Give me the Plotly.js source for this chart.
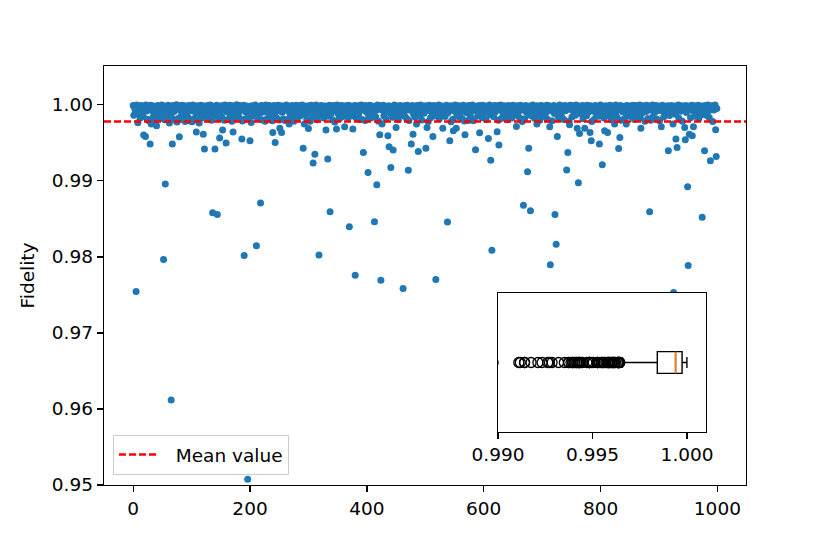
<!DOCTYPE html>
<html>
<head>
<meta charset="utf-8">
<script src="https://cdn.plot.ly/plotly-3.0.1.min.js"></script>
<style>html,body{margin:0;padding:0;background:#fff}</style>
</head>
<body>
<div id="plot" style="width:830px;height:554px"></div>
<script>
// fidelity of each of the 1000 samples (band values estimated)
var fidelity = [
0.99991,0.99862,0.99978,0.99945,0.99912,0.97543,0.99996,0.99957,0.99763,0.99881,0.99983,0.99938,0.99826,0.99992,0.99964,0.99903,0.99971,0.99849,0.99601,0.99987,
0.99952,0.99583,0.99998,0.99917,0.99811,0.99966,0.99979,0.99790,0.99941,0.99483,0.99994,0.99746,0.99925,0.99958,0.99838,0.99985,0.99893,0.99949,0.99791,0.99976,
0.99724,0.99962,0.99990,0.99858,0.99933,0.99981,0.99819,0.99907,0.99968,0.99997,0.99876,0.99944,0.97964,0.99985,0.99802,0.98957,0.99955,0.99921,0.99978,0.99843,
0.99993,0.99936,0.99759,0.99887,0.99972,0.96118,0.99830,0.99483,0.99989,0.99951,0.99912,0.99977,0.99796,0.99942,0.99999,0.99775,0.99960,0.99820,0.99983,0.99579,
0.99930,0.99975,0.99852,0.99995,0.99944,0.99808,0.99967,0.99898,0.99986,0.99780,0.99939,0.99880,0.99979,0.99956,0.99833,0.99992,0.99918,0.99964,0.99787,0.99982,
0.99947,0.99778,0.99996,0.99926,0.99815,0.99973,0.99958,0.99892,0.99641,0.99988,0.99937,0.99841,0.99980,0.99759,0.99910,0.99969,0.99994,0.99826,0.99950,0.99877,
0.99614,0.99985,0.99417,0.99934,0.99861,0.99976,0.99905,0.99991,0.99812,0.99953,0.99970,0.99884,0.99998,0.99940,0.99797,0.99962,0.98579,0.99919,0.99981,0.99849,
0.99417,0.99966,0.99889,0.99993,0.98557,0.99945,0.99823,0.99978,0.99562,0.99914,0.99957,0.99986,0.99836,0.99667,0.99932,0.99974,0.99795,0.99997,0.99948,0.99496,
0.99909,0.99983,0.99805,0.99961,0.99938,0.99995,0.99857,0.99927,0.99971,0.99782,0.99988,0.99643,0.99943,0.99895,0.99979,0.99818,0.99954,0.99999,0.99876,0.99935,
0.99968,0.99844,0.99990,0.99920,0.99952,0.99977,0.99549,0.99786,0.99940,0.99994,0.98017,0.99809,0.99963,0.99901,0.99984,0.99931,0.95075,0.99828,0.99973,0.99891,
0.99526,0.99959,0.99767,0.99987,0.99916,0.99946,0.99852,0.99980,0.99937,0.99996,0.99874,0.98145,0.99965,0.99821,0.99929,0.99978,0.99953,0.99885,0.98707,0.99991,
0.99942,0.99799,0.99970,0.99907,0.99985,0.99956,0.99783,0.99998,0.99934,0.99816,0.99974,0.99897,0.99961,0.99989,0.99846,0.99944,0.99980,0.99912,0.99790,0.99636,
0.99967,0.99992,0.99881,0.99504,0.99950,0.99832,0.99976,0.99923,0.99994,0.99939,0.99799,0.99693,0.99969,0.99986,0.99636,0.99902,0.99958,0.99814,0.99981,0.99936,
0.99792,0.99964,0.99997,0.99928,0.99806,0.99955,0.99983,0.99746,0.99890,0.99947,0.99975,0.99839,0.99991,0.99919,0.99962,0.99785,0.99978,0.99933,0.99868,0.99995,
0.99941,0.99824,0.99972,0.99906,0.99988,0.99951,0.99855,0.99979,0.99930,0.99998,0.99878,0.99430,0.99960,0.99746,0.99915,0.99984,0.99945,0.99811,0.99970,0.99893,
0.99688,0.99987,0.99938,0.99782,0.99966,0.99993,0.99921,0.99834,0.99233,0.99977,0.99949,0.99351,0.99883,0.99996,0.99957,0.99803,0.99971,0.99926,0.98026,0.99982,
0.99943,0.99869,0.99990,0.99954,0.99911,0.99975,0.99827,0.99937,0.99985,0.99898,0.99667,0.99963,0.99980,0.99286,0.99848,0.99932,0.99994,0.98592,0.99959,0.99887,
0.99973,0.99918,0.99800,0.99989,0.99946,0.99774,0.99978,0.99935,0.99680,0.99997,0.99953,0.99879,0.99968,0.99817,0.99983,0.99940,0.99903,0.99992,0.99961,0.99845,
0.99928,0.99979,0.99711,0.99950,0.99986,0.99873,0.99936,0.99970,0.99829,0.99995,0.98395,0.99913,0.99957,0.99981,0.99856,0.99944,0.99680,0.99976,0.99899,0.99990,
0.97759,0.99833,0.99965,0.99922,0.99987,0.99948,0.99881,0.99974,0.99808,0.99939,0.99998,0.99955,0.99806,0.99983,0.99373,0.99930,0.99967,0.99794,0.99991,0.99909,
0.99952,0.99977,0.99110,0.99862,0.99943,0.99993,0.99915,0.99825,0.99969,0.99985,0.99937,0.99886,0.99960,0.98461,0.99979,0.99842,0.99929,0.98947,0.99996,0.99950,
0.99785,0.99972,0.99605,0.99988,0.97693,0.99934,0.99746,0.99963,0.99994,0.99857,0.99946,0.99980,0.99906,0.99812,0.99970,0.99925,0.99592,0.99986,0.99447,0.99953,
0.99893,0.99175,0.99978,0.99940,0.99835,0.99404,0.99967,0.99997,0.99920,0.99871,0.99701,0.99958,0.99983,0.99911,0.99804,0.99973,0.99936,0.99990,0.99864,0.99949,
0.99976,0.99917,0.97583,0.99961,0.99987,0.99850,0.99942,0.99971,0.99818,0.99995,0.99932,0.99140,0.99794,0.99966,0.99981,0.99927,0.99483,0.99955,0.99992,0.99614,
0.99873,0.99946,0.99979,0.99837,0.99958,0.99746,0.99989,0.99912,0.99386,0.99968,0.99938,0.99860,0.99998,0.99951,0.99801,0.99975,0.99924,0.99984,0.99889,0.99944,
0.99963,0.99430,0.99986,0.99701,0.99935,0.99780,0.99972,0.99994,0.99921,0.99828,0.99956,0.99980,0.99899,0.99583,0.99947,0.99991,0.99853,0.99966,0.97701,0.99931,
0.99977,0.99882,0.99949,0.99996,0.99816,0.99940,0.99970,0.99908,0.99985,0.99861,0.99693,0.99957,0.99979,0.99926,0.99846,0.99964,0.99993,0.99937,0.98457,0.99894,
0.99974,0.99952,0.99526,0.99988,0.99776,0.99933,0.99981,0.99809,0.99658,0.99960,0.99918,0.99997,0.99944,0.99693,0.99877,0.99971,0.99987,0.99929,0.99838,0.99962,
0.99983,0.99906,0.99945,0.99820,0.99976,0.99994,0.99931,0.99788,0.99605,0.99958,0.99985,0.99895,0.99967,0.99792,0.99939,0.99990,0.99954,0.99852,0.99978,0.99916,
0.99948,0.99998,0.99789,0.99965,0.99814,0.99936,0.99408,0.99982,0.99923,0.99971,0.99858,0.99950,0.99989,0.99632,0.99902,0.99975,0.99943,0.99831,0.99993,0.99960,
0.99887,0.99969,0.99934,0.99984,0.99807,0.99955,0.99913,0.99978,0.99557,0.99947,0.99996,0.99869,0.99272,0.99962,0.98088,0.99929,0.99980,0.99841,0.99957,0.99991,
0.99910,0.99973,0.99944,0.99644,0.99986,0.99795,0.99470,0.99961,0.99932,0.99997,0.99819,0.99952,0.99979,0.99896,0.99940,0.99988,0.99855,0.99966,0.99920,0.99975,
0.99803,0.99949,0.99992,0.99908,0.99963,0.99872,0.99982,0.99937,0.99827,0.99970,0.99995,0.99916,0.99954,0.99862,0.99978,0.99942,0.99714,0.99988,0.99890,0.99959,
0.99974,0.99834,0.99945,0.99993,0.99927,0.99968,0.99780,0.99981,0.98680,0.99938,0.99815,0.99960,0.99990,0.99904,0.99951,0.99118,0.99976,0.99430,0.99867,0.99985,
0.98605,0.99943,0.99971,0.99853,0.99997,0.99930,0.99964,0.99822,0.99980,0.99914,0.99956,0.99746,0.99988,0.99881,0.99947,0.99973,0.99798,0.99935,0.99992,0.99865,
0.99961,0.99918,0.99984,0.99940,0.99845,0.99977,0.99953,0.99899,0.99994,0.99810,0.99936,0.99967,0.99986,0.99711,0.97895,0.99924,0.99958,0.99791,0.99979,0.99949,
0.99990,0.99886,0.98557,0.99965,0.98167,0.99932,0.99583,0.99975,0.99828,0.99944,0.99998,0.99909,0.99960,0.99851,0.99983,0.99939,0.99971,0.99806,0.99955,0.99989,
0.99921,0.99966,0.99141,0.99982,0.99373,0.99948,0.99784,0.99737,0.99993,0.99937,0.99970,0.99840,0.99957,0.99986,0.99911,0.99945,0.99978,0.99862,0.99996,0.99930,
0.99693,0.99962,0.98974,0.99984,0.99622,0.99941,0.99975,0.99883,0.99952,0.99991,0.99817,0.99968,0.99928,0.99693,0.99980,0.99946,0.99857,0.99994,0.99959,0.99902,
0.99973,0.99935,0.99636,0.99987,0.99526,0.99779,0.99954,0.99978,0.99916,0.99811,0.99965,0.99990,0.99942,0.99877,0.99971,0.99926,0.99983,0.99848,0.99483,0.99957,
0.99996,0.99939,0.99893,0.99211,0.99967,0.99981,0.99825,0.99658,0.99950,0.99988,0.99912,0.99962,0.99636,0.99975,0.99860,0.99944,0.99993,0.99933,0.99802,0.99970,
0.99955,0.99985,0.99880,0.99946,0.99746,0.99972,0.99997,0.99919,0.99838,0.99963,0.99979,0.99425,0.99936,0.99570,0.99989,0.99796,0.99951,0.99974,0.99908,0.99942,
0.99982,0.99818,0.99960,0.99929,0.99746,0.99992,0.99947,0.99873,0.99969,0.99984,0.99937,0.99845,0.99976,0.99915,0.99958,0.99995,0.99884,0.99943,0.99807,0.99971,
0.99990,0.99933,0.99964,0.99856,0.99980,0.99922,0.99953,0.99998,0.99831,0.99693,0.99945,0.99977,0.99896,0.99961,0.99986,0.99940,0.99784,0.99972,0.99913,0.99993,
0.99949,0.99820,0.99967,0.99983,0.98592,0.99931,0.99798,0.99975,0.99956,0.99997,0.99847,0.99938,0.99979,0.99905,0.99962,0.99989,0.99813,0.99944,0.99971,0.99926,
0.99985,0.99790,0.99957,0.99936,0.99711,0.99978,0.99994,0.99917,0.99840,0.99965,0.99948,0.99981,0.99891,0.99970,0.99929,0.99988,0.99395,0.99952,0.99859,0.99976,
0.99940,0.99992,0.99908,0.99963,0.99746,0.97530,0.99983,0.99934,0.99876,0.99549,0.99972,0.99438,0.99955,0.99997,0.99823,0.99946,0.99979,0.99914,0.99968,0.99986,
0.99782,0.99951,0.99975,0.99931,0.99701,0.99539,0.99990,0.99898,0.99960,0.98921,0.97886,0.99982,0.99614,0.99943,0.99829,0.99970,0.99995,0.99592,0.99921,0.99711,
0.99966,0.99987,0.99849,0.99939,0.99978,0.99903,0.99958,0.99993,0.99816,0.99950,0.99973,0.99927,0.99864,0.99984,0.98522,0.99945,0.99967,0.99882,0.99395,0.99991,
0.99937,0.99976,0.99858,0.99962,0.99996,0.99920,0.99834,0.99954,0.99263,0.99981,0.99942,0.99988,0.99781,0.99965,0.99930,0.99979,0.99997,0.99671,0.99320,0.99950
];

// mean value as marked by the dashed line in the picture
var meanFidelity = 0.9978;

var mainXTicks = [0, 200, 400, 600, 800, 1000];
var mainYTicks = [0.95, 0.96, 0.97, 0.98, 0.99, 1.00];
var insetXTicks = [0.990, 0.995, 1.000];

var sampleIndex = fidelity.map((v, i) => i);
var sorted = fidelity.slice().sort((a, b) => a - b);
var n = sorted.length;
var medianFidelity = n % 2 ? sorted[(n - 1) / 2] : (sorted[n / 2 - 1] + sorted[n / 2]) / 2;

var xRange = [-49.95, 1048.95];
var boxWidth = 0.156;

var points = {
  x: sampleIndex,
  y: fidelity,
  type: "scatter",
  mode: "markers",
  marker: {color: "#1f77b4", size: 7},
  showlegend: false,
  hoverinfo: "skip"
};

var meanLine = {
  x: xRange,
  y: [meanFidelity, meanFidelity],
  type: "scatter",
  mode: "lines",
  line: {color: "red", width: 2.5, dash: "7px,3px"},
  name: "\u00a0\u00a0Mean value"
};

var box = {
  x: fidelity,
  y0: 0,
  type: "box",
  orientation: "h",
  xaxis: "x2",
  yaxis: "y2",
  boxpoints: "outliers",
  jitter: 0,
  pointpos: 0,
  width: boxWidth,
  whiskerwidth: 0.5,
  fillcolor: "rgba(0,0,0,0)",
  line: {color: "black", width: 1.4},
  marker: {symbol: "circle-open", size: 10, color: "black", line: {width: 1.3}},
  showlegend: false,
  hoverinfo: "skip"
};

var medianLine = {
  x: [medianFidelity, medianFidelity],
  y: [-boxWidth / 2, boxWidth / 2],
  xaxis: "x2",
  yaxis: "y2",
  type: "scatter",
  mode: "lines",
  line: {color: "#ff7f0e", width: 1.6},
  showlegend: false,
  hoverinfo: "skip"
};

var axisStyle = {
  ticks: "outside",
  ticklen: 6,
  tickwidth: 1.3,
  tickcolor: "black",
  linecolor: "black",
  linewidth: 1.3,
  mirror: true,
  showgrid: false,
  zeroline: false
};

var layout = {
  width: 830,
  height: 554,
  margin: {l: 104, r: 84, t: 66, b: 69},
  paper_bgcolor: "white",
  plot_bgcolor: "white",
  font: {family: "DejaVu Sans", size: 18.5, color: "black"},
  showlegend: true,
  legend: {
    x: 0.014, y: 0.024, xanchor: "left", yanchor: "bottom",
    bordercolor: "#cccccc", borderwidth: 1,
    bgcolor: "rgba(255,255,255,0.8)",
    itemwidth: 40,
    font: {size: 18.5}
  },
  xaxis: Object.assign({}, axisStyle, {
    range: xRange,
    tickvals: mainXTicks
  }),
  yaxis: Object.assign({}, axisStyle, {
    range: [0.95, 1.0051],
    tickvals: mainYTicks,
    tickformat: ".2f",
    title: {text: "Fidelity", standoff: 12, font: {size: 18.5}}
  }),
  xaxis2: Object.assign({}, axisStyle, {
    domain: [0.6137, 0.9377],
    anchor: "y2",
    range: [0.990, 1.001],
    tickvals: insetXTicks,
    tickformat: ".3f"
  }),
  yaxis2: Object.assign({}, axisStyle, {
    domain: [0.1265, 0.4582],
    anchor: "x2",
    type: "linear",
    range: [-0.5, 0.5],
    ticks: "",
    showticklabels: false
  })
};

Plotly.newPlot("plot", [points, meanLine, box, medianLine], layout, {staticPlot: true});
</script>
</body>
</html>
